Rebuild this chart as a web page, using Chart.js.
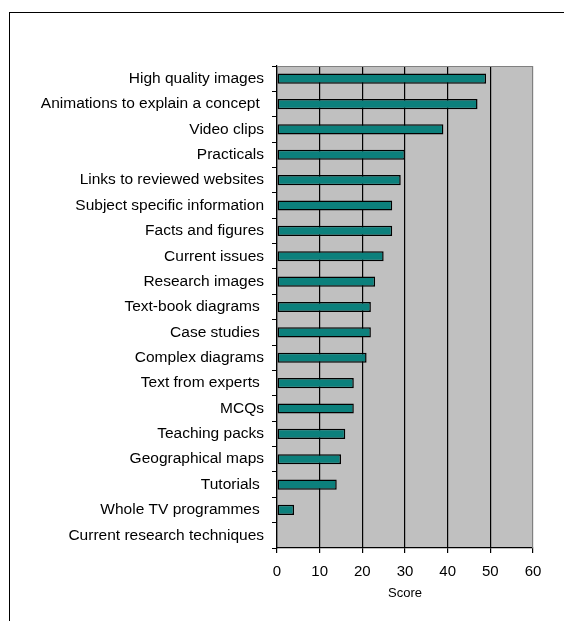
<!DOCTYPE html>
<html>
<head>
<meta charset="utf-8">
<script src="https://cdn.jsdelivr.net/npm/chart.js@4.4.1/dist/chart.umd.min.js"></script>
<style>
    html, body { margin: 0; padding: 0; background: #fff; }
    #wrap { position: relative; width: 564px; height: 621px; overflow: hidden; }
    #frame { position: absolute; left: 9px; top: 12px; width: 600px; height: 700px;
             border-left: 1px solid #000; border-top: 1px solid #000; }
    canvas { position: absolute; left: 0; top: 0; }
</style>
</head>
<body>
<div id="wrap">
    <div id="frame"></div>
    <canvas id="scoreChart" width="564" height="621"></canvas>
</div>
<script>
// --- Data ---
const resources = [
    "High quality images",
    "Animations to explain a concept ",
    "Video clips",
    "Practicals",
    "Links to reviewed websites",
    "Subject specific information",
    "Facts and figures",
    "Current issues",
    "Research images",
    "Text-book diagrams ",
    "Case studies ",
    "Complex diagrams",
    "Text from experts ",
    "MCQs",
    "Teaching packs",
    "Geographical maps",
    "Tutorials ",
    "Whole TV programmes ",
    "Current research techniques"
];
const scores = [49, 47, 39, 30, 29, 27, 27, 25, 23, 22, 22, 21, 18, 18, 16, 15, 14, 4, 0];
const scoreTicks = [0, 10, 20, 30, 40, 50, 60];

const FONT = 'Liberation Sans, Arial, sans-serif';

// grey plot background + grey top/right edge
const plotArea = {
    id: 'plotArea',
    beforeDraw(chart) {
        const { ctx, chartArea: a } = chart;
        ctx.save();
        ctx.fillStyle = '#C0C0C0';
        ctx.fillRect(a.left, a.top, a.right - a.left, a.bottom - a.top);
        ctx.restore();
    },
    afterDatasetsDraw(chart) {
        const { ctx, chartArea: a } = chart;
        ctx.save();
        ctx.strokeStyle = '#808080';
        ctx.lineWidth = 1;
        ctx.beginPath();
        ctx.moveTo(a.left, a.top + 0.5);
        ctx.lineTo(a.right - 0.5, a.top + 0.5);
        ctx.lineTo(a.right - 0.5, a.bottom);
        ctx.stroke();
        ctx.restore();
    }
};

const ctx = document.getElementById('scoreChart').getContext('2d');
new Chart(ctx, {
    type: 'bar',
    data: {
        labels: resources,
        datasets: [{
            label: 'Score',
            data: scores,
            backgroundColor: '#0C807C',
            borderColor: '#000',
            borderWidth: 1.5,
            borderSkipped: false,
            categoryPercentage: 1,
            barPercentage: 0.4
        }]
    },
    options: {
        indexAxis: 'y',
        responsive: false,
        animation: false,
        layout: { padding: { top: 66, right: 31, bottom: 20, left: 0 } },
        plugins: {
            legend: { display: false },
            tooltip: { enabled: false }
        },
        scales: {
            x: {
                min: 0,
                max: 60,
                afterBuildTicks: s => { s.ticks = scoreTicks.map(v => ({ value: v })); },
                afterFit: s => { s.height = 53; },
                grid: {
                    color: c => c.tick && c.tick.value === 60 ? '#808080' : '#000',
                    tickColor: '#000',
                    tickLength: 5,
                    lineWidth: 1.2
                },
                border: { color: '#000', width: 1.2 },
                ticks: {
                    color: '#000',
                    padding: 10,
                    font: { family: FONT, size: 15 }
                },
                title: {
                    display: true,
                    text: 'Score',
                    color: '#000',
                    padding: { top: 2, bottom: 0 },
                    font: { family: FONT, size: 13 }
                }
            },
            y: {
                afterFit: s => { s.width = 277; },
                grid: {
                    drawOnChartArea: false,
                    color: '#000',
                    tickLength: 5
                },
                border: { color: '#000', width: 1.2 },
                ticks: {
                    color: '#000',
                    padding: 8,
                    autoSkip: false,
                    font: { family: FONT, size: 15.5 }
                }
            }
        }
    },
    plugins: [plotArea]
});
</script>
</body>
</html>
